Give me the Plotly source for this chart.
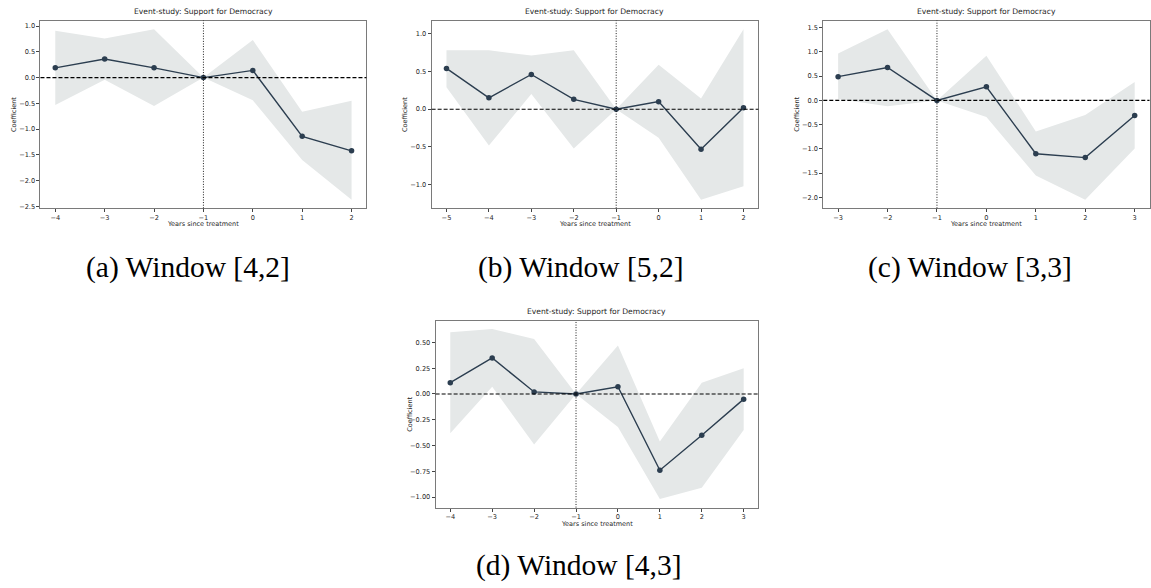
import plotly.graph_objects as go

W, H = 1151, 588

# ---- data ----
x_a = [-4, -3, -2, -1, 0, 1, 2]
coef_a = [0.19, 0.36, 0.19, 0.0, 0.14, -1.14, -1.42]
hi_a = [0.91, 0.76, 0.94, 0.0, 0.73, -0.66, -0.45]
lo_a = [-0.53, -0.04, -0.55, 0.0, -0.44, -1.60, -2.37]

x_b = [-5, -4, -3, -2, -1, 0, 1, 2]
coef_b = [0.54, 0.15, 0.46, 0.13, 0.0, 0.10, -0.53, 0.02]
hi_b = [0.78, 0.78, 0.71, 0.78, 0.0, 0.59, 0.14, 1.06]
lo_b = [0.29, -0.48, 0.20, -0.52, 0.0, -0.38, -1.20, -1.02]

x_c = [-3, -2, -1, 0, 1, 2, 3]
coef_c = [0.49, 0.68, 0.0, 0.28, -1.10, -1.18, -0.31]
hi_c = [0.97, 1.47, 0.0, 0.92, -0.64, -0.30, 0.38]
lo_c = [0.03, -0.12, 0.0, -0.34, -1.55, -2.05, -0.99]

x_d = [-4, -3, -2, -1, 0, 1, 2, 3]
coef_d = [0.11, 0.35, 0.02, 0.0, 0.07, -0.74, -0.40, -0.05]
hi_d = [0.60, 0.63, 0.535, 0.0, 0.47, -0.46, 0.11, 0.25]
lo_d = [-0.38, 0.07, -0.49, 0.0, -0.32, -1.02, -0.91, -0.35]

captions = ["(a) Window [4,2]", "(b) Window [5,2]", "(c) Window [3,3]", "(d) Window [4,3]"]
title_text = "Event-study: Support for Democracy"
xlabel = "Years since treatment"
ylabel = "Coefficient"

yticks_a = [-2.5, -2.0, -1.5, -1.0, -0.5, 0.0, 0.5, 1.0]
yticks_b = [-1.0, -0.5, 0.0, 0.5, 1.0]
yticks_c = [-2.0, -1.5, -1.0, -0.5, 0.0, 0.5, 1.0, 1.5]
yticks_d = [-1.00, -0.75, -0.50, -0.25, 0.00, 0.25, 0.50]

# ---- layout geometry (pixels) ----
panels = [
    dict(x=x_a, c=coef_a, hi=hi_a, lo=lo_a, yt=yticks_a, fmt=".1f",
         px=(40.5, 366.7), py=(20.7, 209.0), cap=(188, 268)),
    dict(x=x_b, c=coef_b, hi=hi_b, lo=lo_b, yt=yticks_b, fmt=".1f",
         px=(432.0, 759.0), py=(20.7, 209.0), cap=(582, 268)),
    dict(x=x_c, c=coef_c, hi=hi_c, lo=lo_c, yt=yticks_c, fmt=".1f",
         px=(824.0, 1150.5), py=(20.7, 209.0), cap=(971, 268)),
    dict(x=x_d, c=coef_d, hi=hi_d, lo=lo_d, yt=yticks_d, fmt=".2f",
         px=(436.0, 759.0), py=(321.7, 509.3), cap=(580, 567)),
]

NAVY = "#2c3e50"
FILL = "#e5e8e8"
SPINE = "#7a7a7a"
TICKFONT = dict(family="DejaVu Sans", size=6.6, color="#262626")

fig = go.Figure()
shapes = []
annotations = []


def fx(px):
    return px / W


def fy(py):
    return 1 - py / H


for i, p in enumerate(panels):
    n = "" if i == 0 else str(i + 1)
    xa, ya = "x" + n, "y" + n
    # CI band
    fig.add_trace(go.Scatter(x=p["x"], y=p["hi"], mode="lines", line=dict(width=0),
                             hoverinfo="skip", showlegend=False, xaxis=xa, yaxis=ya))
    fig.add_trace(go.Scatter(x=p["x"], y=p["lo"], mode="lines", line=dict(width=0),
                             fill="tonexty", fillcolor=FILL, hoverinfo="skip",
                             showlegend=False, xaxis=xa, yaxis=ya))
    # coefficients
    fig.add_trace(go.Scatter(x=p["x"], y=p["c"], mode="lines+markers",
                             line=dict(color=NAVY, width=1.4),
                             marker=dict(color=NAVY, size=5.5),
                             showlegend=False, xaxis=xa, yaxis=ya))

    xmin, xmax = min(p["x"]), max(p["x"])
    xm = 0.05 * (xmax - xmin)
    ymin, ymax = min(p["lo"]), max(p["hi"])
    ym = 0.05 * (ymax - ymin)

    axcommon = dict(showline=True, mirror=True, linecolor=SPINE, linewidth=1,
                    ticks="outside", ticklen=3, tickwidth=0.8, tickcolor="#444",
                    showgrid=False, zeroline=False, tickfont=TICKFONT)
    fig.layout["xaxis" + n] = dict(domain=[fx(p["px"][0]), fx(p["px"][1])],
                                   range=[xmin - xm, xmax + xm], anchor=ya,
                                   tickmode="array", tickvals=p["x"],
                                   ticktext=[str(v).replace("-", "\u2212") for v in p["x"]],
                                   **axcommon)
    fig.layout["yaxis" + n] = dict(domain=[fy(p["py"][1]), fy(p["py"][0])],
                                   range=[ymin - ym, ymax + ym], anchor=xa,
                                   tickmode="array", tickvals=p["yt"],
                                   ticktext=[format(v, p["fmt"]).replace("-", "\u2212") for v in p["yt"]],
                                   **axcommon)

    # reference lines
    shapes.append(dict(type="line", xref=xa + " domain", yref=ya, x0=0, x1=1, y0=0, y1=0,
                       line=dict(color="black", width=1.1, dash="4px,2px"), layer="above"))
    shapes.append(dict(type="line", xref=xa, yref=ya + " domain", x0=-1, x1=-1, y0=0, y1=1,
                       line=dict(color="black", width=0.9, dash="1px,1.6px"), layer="above"))

    cx = (p["px"][0] + p["px"][1]) / 2
    # title
    annotations.append(dict(text=title_text, x=fx(cx), y=fy(p["py"][0] - 2.5), xref="paper", yref="paper",
                            xanchor="center", yanchor="bottom", showarrow=False,
                            font=dict(family="DejaVu Sans", size=7.6, color="#262626")))
    # x label
    annotations.append(dict(text=xlabel, x=fx(cx), y=fy(p["py"][1] + 16), xref="paper", yref="paper",
                            xanchor="center", yanchor="middle", showarrow=False,
                            font=dict(family="DejaVu Sans", size=6.5, color="#262626")))
    # y label
    cy = (p["py"][0] + p["py"][1]) / 2
    annotations.append(dict(text=ylabel, x=fx(p["px"][0] - 26), y=fy(cy), xref="paper", yref="paper",
                            xanchor="center", yanchor="middle", textangle=-90, showarrow=False,
                            font=dict(family="DejaVu Sans", size=6.5, color="#262626")))
    # caption
    annotations.append(dict(text=captions[i], x=fx(p["cap"][0]), y=fy(p["cap"][1]), xref="paper", yref="paper",
                            xanchor="center", yanchor="middle", showarrow=False,
                            font=dict(family="Liberation Serif", size=29.5, color="black")))

fig.update_layout(width=W, height=H, margin=dict(l=0, r=0, t=0, b=0),
                  paper_bgcolor="white", plot_bgcolor="white",
                  shapes=shapes, annotations=annotations, showlegend=False)

fig.write_html("out.html", config={"displayModeBar": False},
               post_script="document.body.style.margin='0';document.body.style.overflow='hidden';")
